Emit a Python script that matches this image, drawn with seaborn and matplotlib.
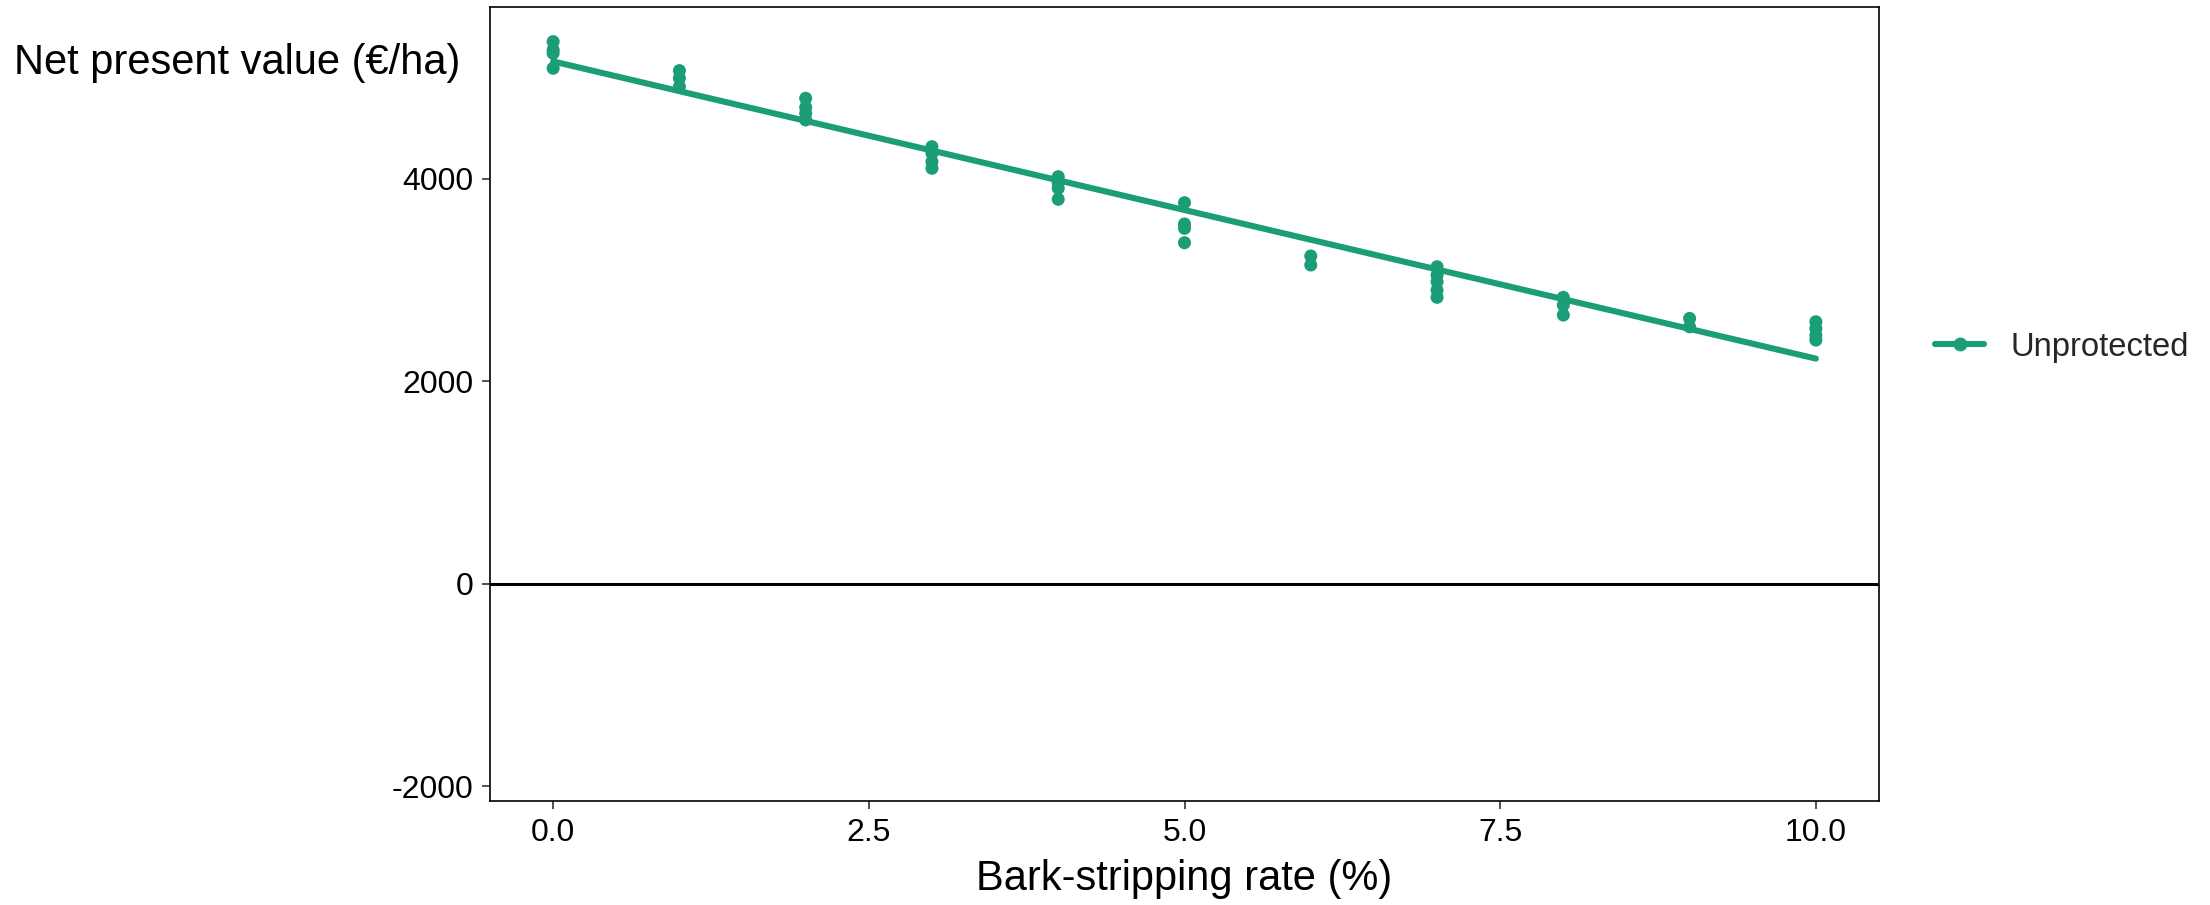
import numpy as np
import pandas as pd
import matplotlib
matplotlib.use("Agg")
import matplotlib.pyplot as plt
import seaborn as sns

# ---- data ----
rate_0 = [5351, 5269, 5236, 5088]
rate_1 = [5065, 4990, 4907]
rate_2 = [4792, 4703, 4644, 4578]
rate_3 = [4314, 4249, 4166, 4101]
rate_4 = [4018, 3953, 3903, 3795]
rate_5 = [3761, 3551, 3508, 3366]
rate_6 = [3235, 3146]
rate_7 = [3129, 3047, 2981, 2899, 2827]
rate_8 = [2827, 2751, 2652]
rate_9 = [2619, 2536]
rate_10 = [2586, 2520, 2454, 2405]
rates = [0, 1, 2, 3, 4, 5, 6, 7, 8, 9, 10]
series_name = "Unprotected"
x_ticks = [0.0, 2.5, 5.0, 7.5, 10.0]
x_tick_labels = ["0.0", "2.5", "5.0", "7.5", "10.0"]
y_ticks = [-2000, 0, 2000, 4000]
y_tick_labels = ["-2000", "0", "2000", "4000"]

groups = [rate_0, rate_1, rate_2, rate_3, rate_4, rate_5, rate_6,
          rate_7, rate_8, rate_9, rate_10]
rows = []
for r, vals in zip(rates, groups):
    for v in vals:
        rows.append({"rate": r, "npv": v, "treatment": series_name})
df = pd.DataFrame(rows)

color = "#1B9E77"

sns.set_theme(style="white")
plt.rcParams["font.family"] = ["Liberation Sans", "DejaVu Sans"]

fig = plt.figure(figsize=(11.05, 4.525), dpi=200)
ax = fig.add_axes([490 / 2210, 1 - 801 / 905, (1879 - 490) / 2210, (801 - 7) / 905])

ax.axhline(0, color="black", lw=1.1, zorder=1)

sns.scatterplot(data=df, x="rate", y="npv", ax=ax, color=color, s=22,
                edgecolor="none", linewidth=0, zorder=3, legend=False)
sns.regplot(data=df, x="rate", y="npv", ax=ax, scatter=False, ci=None,
            truncate=True, color=color, line_kws={"lw": 2.2, "zorder": 4})

ax.set_xlim(-0.5, 10.5)
ax.set_ylim(-2145, 5693)
ax.set_xticks(x_ticks)
ax.set_xticklabels(x_tick_labels)
ax.set_yticks(y_ticks)
ax.set_yticklabels(y_tick_labels)
ax.tick_params(axis="both", direction="out", length=3, width=0.6,
               color="#333333", labelsize=11.5, labelcolor="black", pad=3,
               bottom=True, left=True)
for sp in ax.spines.values():
    sp.set_visible(True)
    sp.set_color("black")
    sp.set_linewidth(0.6)

ax.set_xlabel("Bark-stripping rate (%)", fontsize=15, color="black", labelpad=4)
ax.set_ylabel("")
fig.text(14 / 2210, 1 - 63 / 905, "Net present value (€/ha)", fontsize=15,
         ha="left", va="center", color="black")

handle = plt.Line2D([], [], color=color, lw=2.2, marker="o", markersize=5,
                    markeredgewidth=0)
fig.legend([handle], [series_name], loc="center left",
           bbox_to_anchor=(1935 / 2210, 1 - 347 / 905),
           bbox_transform=fig.transFigure, frameon=False, fontsize=11.8,
           handlelength=1.5, handletextpad=0.8, borderpad=0, borderaxespad=0)

fig.savefig("out.png", dpi=200, facecolor="white")
